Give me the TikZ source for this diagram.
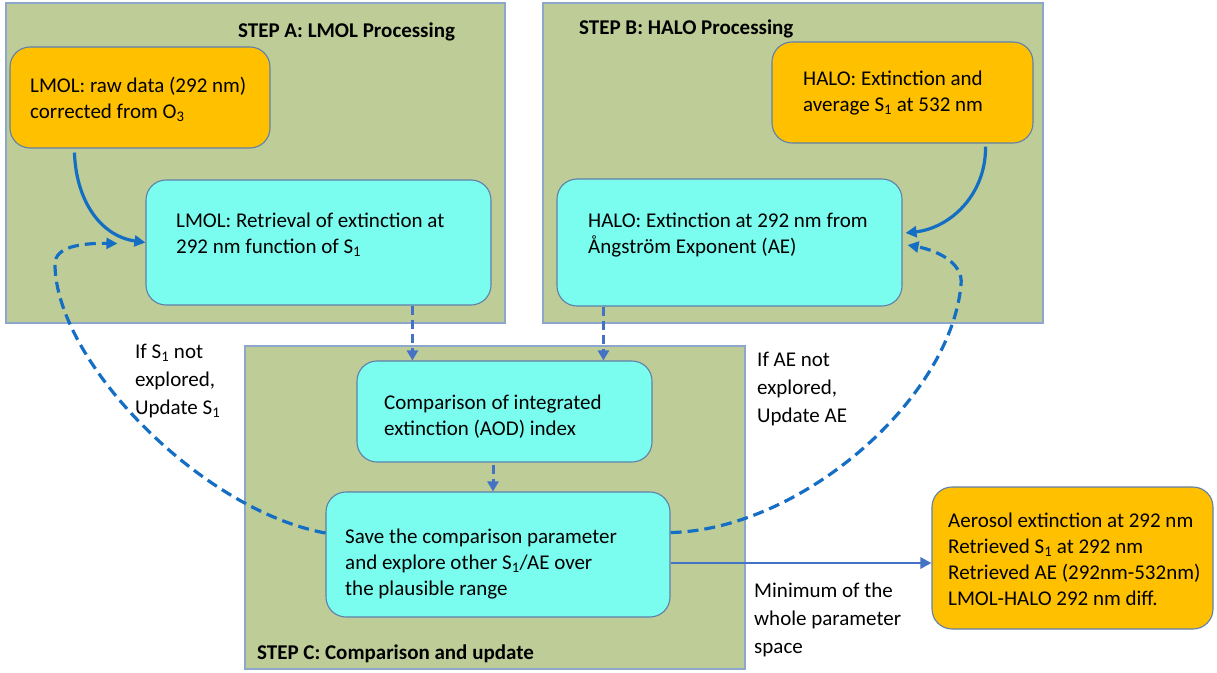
\documentclass[tikz,border=0pt]{standalone}
\usepackage{fontspec}
\setmainfont{Carlito}
\usetikzlibrary{arrows.meta,calc}
\definecolor{panel}{RGB}{190,205,152}
\definecolor{panelline}{RGB}{140,166,204}
\definecolor{cyanbox}{RGB}{122,252,238}
\definecolor{orangebox}{RGB}{255,192,0}
\definecolor{boxline}{RGB}{95,128,170}
\definecolor{curveblue}{RGB}{20,110,195}
\definecolor{lineblue}{RGB}{68,114,196}
\newcommand{\ml}[1]{\begin{tabular}[t]{@{}l@{}}#1\end{tabular}}
\begin{document}
\begin{tikzpicture}[x=1pt,y=-1pt,
  panelbox/.style={draw=panelline, line width=1.4pt, fill=panel, inner sep=0pt},
  cbox/.style={draw=boxline, line width=1.1pt, fill=cyanbox, rounded corners=20pt, inner sep=0pt},
  obox/.style={draw=boxline, line width=1.1pt, fill=orangebox, rounded corners=20pt, inner sep=0pt},
  txt/.style={anchor=base west, inner sep=0pt, font=\fontsize{21}{26}\selectfont},
  lbl/.style={anchor=base west, inner sep=0pt, font=\fontsize{21}{28}\selectfont},
  ttl/.style={anchor=base west, inner sep=0pt, font=\fontsize{21}{26}\selectfont\bfseries},
  curvearrow/.style={draw=curveblue, line width=3.2pt, -{Triangle[length=11pt,width=11pt]}},
  loopdash/.style={draw=curveblue, line width=3.2pt, dash pattern=on 11pt off 6pt, -{Triangle[length=11pt,width=11pt]}},
  vdash/.style={draw=lineblue, line width=3pt, dash pattern=on 9pt off 5pt, -{Triangle[length=10pt,width=11pt]}},
  outarrow/.style={draw=lineblue, line width=2.8pt, -{Triangle[length=11pt,width=11pt]}}
]
\useasboundingbox (0,0) rectangle (1217,672);
\fill[white] (0,0) rectangle (1217,672);

% panels
\node[panelbox, minimum width=499pt, minimum height=320pt] (pa) at (255.5,163) {};
\node[panelbox, minimum width=500pt, minimum height=320pt] (pb) at (793,163) {};
\node[panelbox, minimum width=500pt, minimum height=323pt] (pc) at (495,507.5) {};

\node[ttl] (ta) at (238,37) {STEP A: LMOL Processing};
\node[ttl] (tb) at (579,34) {STEP B: HALO Processing};
\node[ttl] (tc) at (257,659) {STEP C: Comparison and update};

% boxes
\node[obox, minimum width=260pt, minimum height=101pt] (lo) at (140,97.5) {};
\node[cbox, minimum width=345pt, minimum height=125pt] (lc) at (318.5,242.5) {};
\node[obox, minimum width=261pt, minimum height=101pt] (ho) at (902.5,92.5) {};
\node[cbox, minimum width=345pt, minimum height=127pt] (hc) at (729.5,242.5) {};
\node[cbox, minimum width=295pt, minimum height=101pt] (cmp) at (504.5,411.5) {};
\node[cbox, minimum width=344pt, minimum height=125pt] (sv) at (498,554.5) {};
\node[obox, minimum width=281pt, minimum height=142pt] (out) at (1072.5,558) {};

% box texts
\node[txt] (tlo) at (30,92) {\ml{LMOL: raw data (292 nm)\\corrected from O\textsubscript{3}}};
\node[txt] (tlc) at (176,227) {\ml{LMOL: Retrieval of extinction at\\292 nm function of S\textsubscript{1}}};
\node[txt] (tho) at (803,85) {\ml{HALO: Extinction and\\average S\textsubscript{1} at 532 nm}};
\node[txt] (thc) at (588,227) {\ml{HALO: Extinction at 292 nm from\\Ångström Exponent (AE)}};
\node[txt] (tcmp) at (384,409) {\ml{Comparison of integrated\\extinction (AOD) index}};
\node[txt] (tsv) at (345,543) {\ml{Save the comparison parameter\\and explore other S\textsubscript{1}/AE over\\the plausible range}};
\node[txt] (tout) at (948,527) {\ml{Aerosol extinction at 292 nm\\Retrieved S\textsubscript{1} at 292 nm\\Retrieved AE (292nm-532nm)\\LMOL-HALO 292 nm diff.}};

% free labels
\node[lbl] (ls) at (135,358) {\ml{If S\textsubscript{1} not\\explored,\\Update S\textsubscript{1}}};
\node[lbl] (lae) at (757,366) {\ml{If AE not\\explored,\\Update AE}};
\node[lbl] (lmin) at (754,597) {\ml{Minimum of the\\whole parameter\\space}};

% connectors
\draw[curvearrow] ($(lo.south west)+(65,4)$) .. controls (76,200) and (100,236) .. (lc.west);
\draw[curvearrow] ($(ho.south east)+(-48,3)$) .. controls (986,195) and (950,228) .. ($(hc.east)+(3,-9.5)$);
\draw[loopdash] ($(sv.west)+(0,-21.5)$) .. controls (200,510) and (55,360) .. (55,264)
   .. controls (55,247) and (80,243) .. ($(lc.west)+(-28,1)$);
\draw[loopdash] ($(sv.east)+(0,-22)$) .. controls (800,530) and (950,400) .. (961,285)
   .. controls (964,262) and (935,250) .. ($(hc.east)+(5,2.5)$);
\draw[vdash] ($(lc.south west)+(267,0)$) -- ($(cmp.north west)+(56,0)$);
\draw[vdash] ($(hc.south west)+(47,0)$) -- ($(cmp.north west)+(247,0)$);
\draw[vdash] ($(cmp.south)+(-11.5,2)$) -- ($(sv.north)+(-5,0)$);
\draw[outarrow] ($(sv.east)+(0,8.5)$) -- ($(out.west)+(0,5)$);
\end{tikzpicture}
\end{document}
